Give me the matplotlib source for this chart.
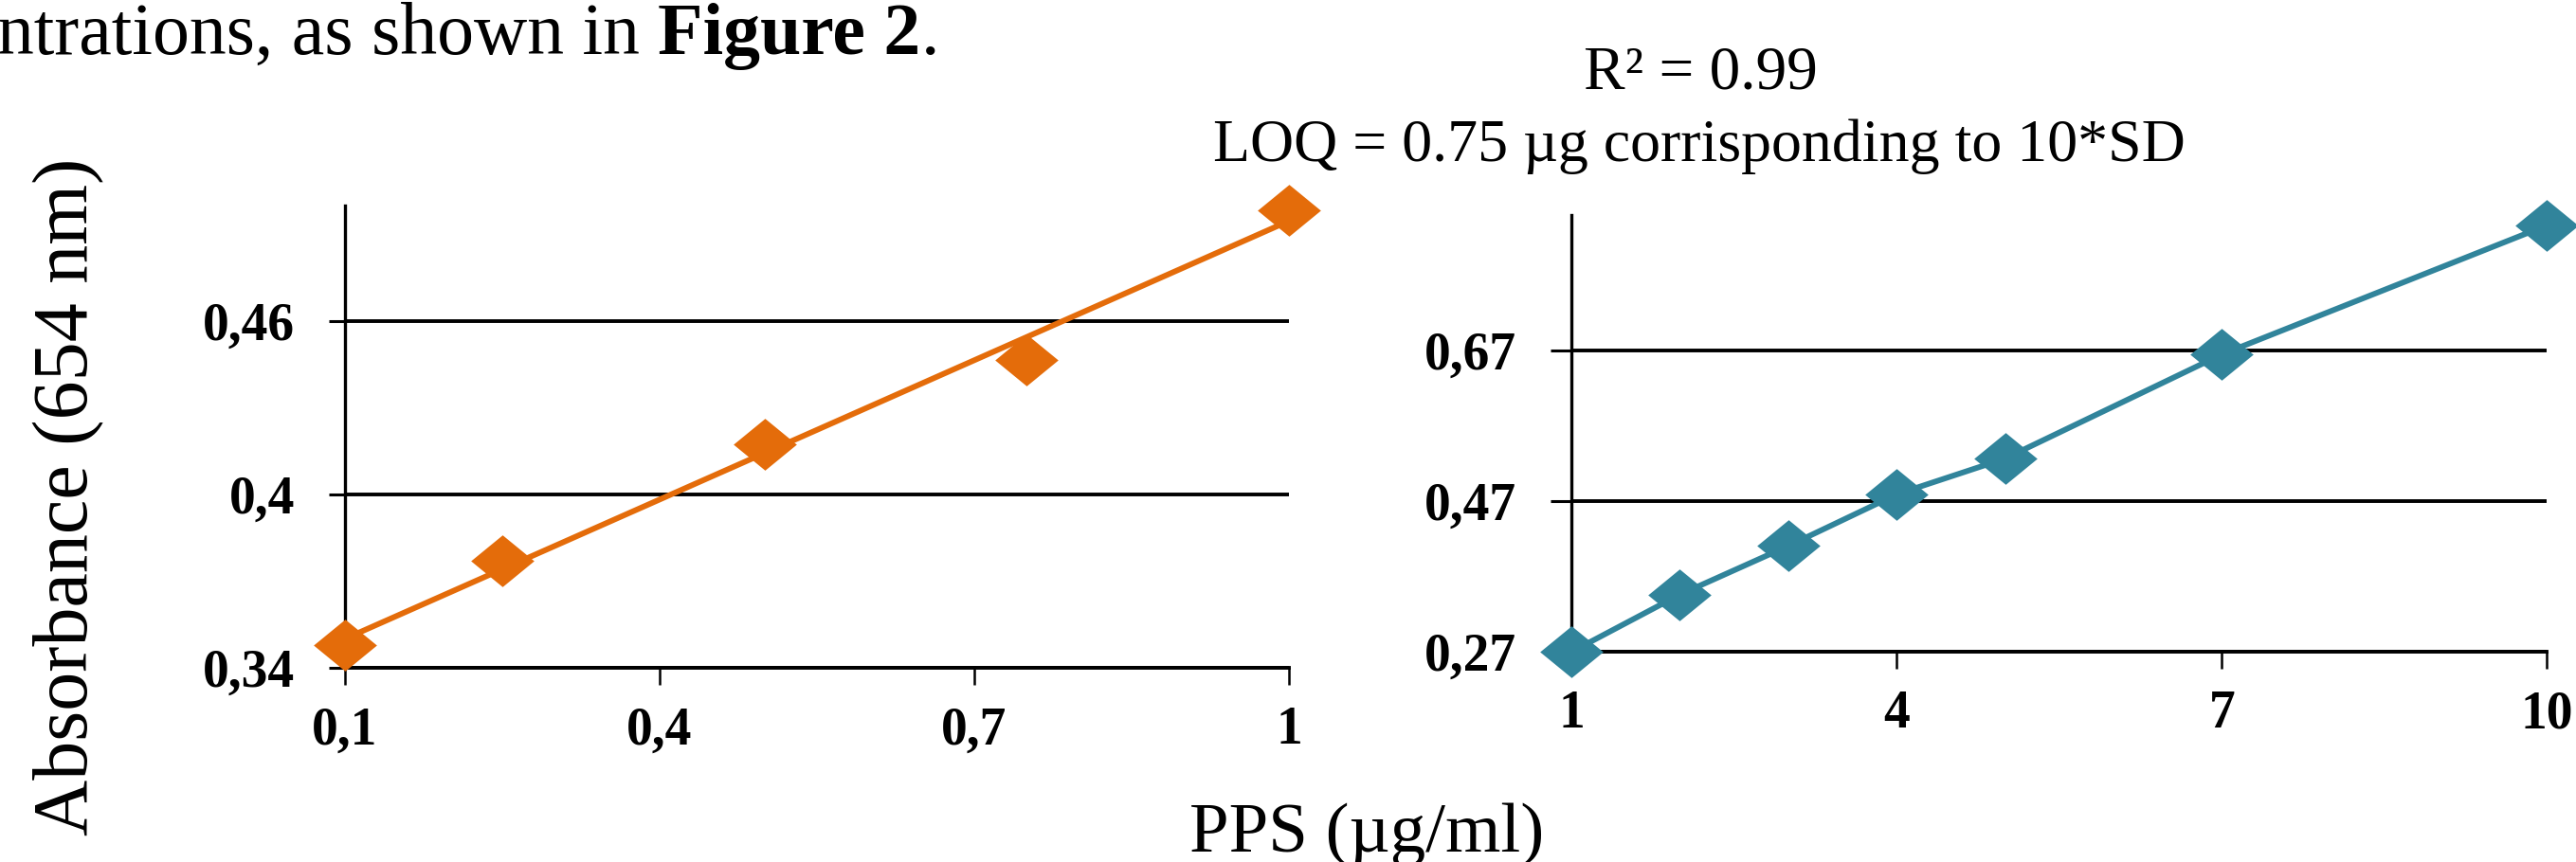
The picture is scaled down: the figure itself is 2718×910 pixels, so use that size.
import matplotlib
matplotlib.use("Agg")
import matplotlib.pyplot as plt
import numpy as np

plt.rcParams['font.family'] = ['Liberation Serif', 'DejaVu Serif']

# low range calibration (0.1 - 1 ug/ml)
pps_low = [0.1, 0.25, 0.5, 0.75, 1.0]
abs_low = [0.348, 0.377, 0.4175, 0.4467, 0.4984]
low_xticks = [0.1, 0.4, 0.7, 1.0]
low_xlabels = ["0,1", "0,4", "0,7", "1"]
low_yticks = [0.34, 0.40, 0.46]
low_ylabels = ["0,34", "0,4", "0,46"]

# high range calibration (1 - 10 ug/ml)
pps_high = [1, 2, 3, 4, 5, 7, 10]
abs_high = [0.27, 0.346, 0.4105, 0.479, 0.5265, 0.6647, 0.836]
high_xticks = [1, 4, 7, 10]
high_xlabels = ["1", "4", "7", "10"]
high_yticks = [0.27, 0.47, 0.67]
high_ylabels = ["0,27", "0,47", "0,67"]

orange = "#E46C0A"
teal = "#31849B"
diamond = [(-1, 0), (0, 0.82), (1, 0), (0, -0.82), (-1, 0)]

W, H = 2718, 910
fig = plt.figure(figsize=(W / 100, H / 100), dpi=100)


def style(ax, xticks, xlabels, yticks, ylabels, ylen):
    ax.set_xticks(xticks)
    ax.set_xticklabels(xlabels)
    ax.set_yticks(yticks)
    ax.set_yticklabels(ylabels)
    for s in ["top", "right"]:
        ax.spines[s].set_visible(False)
    ax.spines["left"].set_linewidth(2.4)
    ax.spines["bottom"].set_linewidth(2.8)
    ax.yaxis.grid(True, color="black", linewidth=2.8)
    ax.tick_params(axis="y", direction="out", length=ylen, width=2.2, pad=26, labelsize=40)
    ax.tick_params(axis="x", direction="out", length=13, width=1.8, pad=16, labelsize=40)
    for lab in ax.get_xticklabels() + ax.get_yticklabels():
        lab.set_fontweight("bold")


ax1 = fig.add_axes([363.8 / W, 1 - 705 / H, (1360 - 363.8) / W, (705 - 217) / H])
ax1.set_xlim(0.1, 1.0)
ax1.set_ylim(0.34, 0.50)
style(ax1, low_xticks, low_xlabels, low_yticks, low_ylabels, 12)

# linear trendline through the low range points
coef = np.polyfit(pps_low, abs_low, 1)
fit_x = np.array([pps_low[0], pps_low[-1]])
ax1.plot(fit_x, np.polyval(coef, fit_x), color=orange, lw=4.3, clip_on=False)
ax1.plot(pps_low, abs_low, linestyle="none", marker=diamond, ms=48, color=orange,
         mew=0, clip_on=False, zorder=3)

ax2 = fig.add_axes([1658 / W, 1 - 688.2 / H, (2687.4 - 1658) / W, (688.2 - 226.7) / H])
ax2.set_xlim(1, 10)
ax2.set_ylim(0.27, 0.85)
style(ax2, high_xticks, high_xlabels, high_yticks, high_ylabels, 16)
ax2.plot(pps_high, abs_high, color=teal, lw=4.3, marker=diamond, ms=48, mew=0,
         clip_on=False, zorder=3)

fig.text(1794 / W, 1 - 93 / H, "R² = 0.99", ha="center", va="baseline", fontsize=47)
fig.text(1793 / W, 1 - 170 / H, "LOQ = 0.75 µg corrisponding to 10*SD",
         ha="center", va="baseline", fontsize=46)
fig.text(1442 / W, 1 - 899 / H, "PPS (µg/ml)", ha="center", va="baseline", fontsize=54)
fig.text(73 / W, 1 - 524 / H, "Absorbance (654 nm)", rotation=90, ha="center",
         va="center", fontsize=59)

# cut-off sentence from the page above the figure
r = fig.canvas.get_renderer()
base = 1 - 57 / H
t1 = fig.text(-3 / W, base, "ntrations, as shown in ", ha="left", va="baseline", fontsize=56)
x = t1.get_window_extent(renderer=r).x1
t2 = fig.text(x / W, base, "Figure 2", ha="left", va="baseline", fontsize=56, fontweight="bold")
x = t2.get_window_extent(renderer=r).x1
fig.text(x / W, base, ".", ha="left", va="baseline", fontsize=56)

fig.savefig("out.png", dpi=100)
